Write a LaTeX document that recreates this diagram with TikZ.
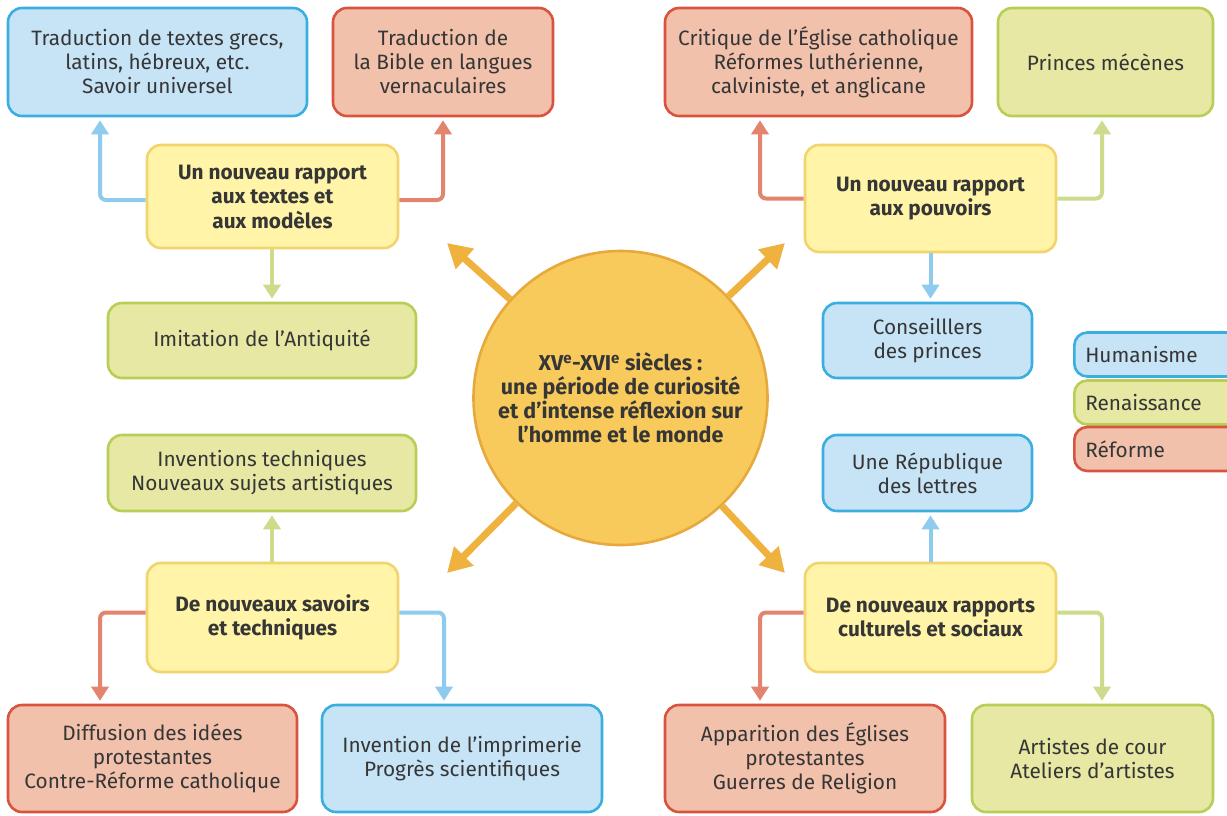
\documentclass[tikz,border=0pt]{standalone}
\usepackage{fontspec}
\setmainfont{Fira Sans}
\usetikzlibrary{arrows.meta}
\definecolor{txt}{HTML}{363636}
\definecolor{bluF}{HTML}{C7E4F7}
\definecolor{bluD}{HTML}{3BAEE0}
\definecolor{bluA}{HTML}{8FCBEF}
\definecolor{redF}{HTML}{F1C1AB}
\definecolor{redD}{HTML}{D9533F}
\definecolor{redA}{HTML}{E3846F}
\definecolor{grnF}{HTML}{E6E8A3}
\definecolor{grnD}{HTML}{B8CE57}
\definecolor{grnA}{HTML}{CCDB8C}
\definecolor{yelF}{HTML}{FFF4A8}
\definecolor{yelD}{HTML}{F2D46C}
\definecolor{cirF}{HTML}{F8CA5C}
\definecolor{cirD}{HTML}{E7A93C}
\definecolor{orA}{HTML}{EFB23F}
\begin{document}
\begin{tikzpicture}[x=1pt,y=-1pt,
  box/.style={rounded corners=14pt, line width=2.6pt, align=center, inner sep=0pt,
    font=\fontsize{20.8}{24}\selectfont, text=txt},
  bluebox/.style={box, draw=bluD, fill=bluF},
  redbox/.style={box, draw=redD, fill=redF},
  greenbox/.style={box, draw=grnD, fill=grnF},
  yelbox/.style={box, draw=yelD, fill=yelF, font=\fontsize{20.8}{24.5}\selectfont\bfseries},
  conn/.style={line width=4pt, rounded corners=6pt, -{Triangle[length=14pt,width=17pt]}, shorten >=3pt},
  bc/.style={conn, draw=bluA, bluA},
  rc/.style={conn, draw=redA, redA},
  gc/.style={conn, draw=grnA, grnA},
  orarr/.style={line width=7pt, draw=orA, -{Triangle[length=24pt,width=26pt]}, orA},
  leg/.style={rounded corners=13pt, line width=2.6pt, anchor=west, minimum height=44pt,
    text width=150pt, inner xsep=11pt, align=left, font=\fontsize{20.8}{24}\selectfont, text=txt}
]
\clip (0,0) rectangle (1227,815);
\fill[white] (0,0) rectangle (1227,815);

% top-left group
\node[bluebox, minimum width=299pt, minimum height=108pt] (b1) at (157.5,62)
  {Traduction de textes grecs,\\latins, hébreux, etc.\\Savoir universel};
\node[redbox, minimum width=220pt, minimum height=108pt] (r1) at (443,62)
  {Traduction de\\la Bible en langues\\vernaculaires};
\node[yelbox, minimum width=251pt, minimum height=103pt] (y1) at (272.5,196.5)
  {Un nouveau rapport\\aux textes et\\aux modèles};
\node[greenbox, minimum width=308pt, minimum height=75pt] (g1) at (262,340.5)
  {Imitation de l’Antiquité};

% top-right group
\node[redbox, minimum width=307pt, minimum height=108pt] (r2) at (818.5,62)
  {Critique de l’Église catholique\\Réformes luthérienne,\\calviniste, et anglicane};
\node[greenbox, minimum width=215pt, minimum height=108pt] (g2) at (1105.5,62)
  {Princes mécènes};
\node[yelbox, minimum width=251pt, minimum height=107pt] (y2) at (930.5,198.5)
  {Un nouveau rapport\\aux pouvoirs};
\node[bluebox, minimum width=209pt, minimum height=75pt] (b2) at (927.5,340.5)
  {Conseilllers\\des princes};

% bottom-left group
\node[greenbox, minimum width=308pt, minimum height=76pt] (g3) at (262,473)
  {Inventions techniques\\Nouveaux sujets artistiques};
\node[yelbox, minimum width=251pt, minimum height=109pt] (y3) at (272.5,617.5)
  {De nouveaux savoirs\\et techniques};
\node[redbox, minimum width=289pt, minimum height=107pt] (r3) at (152.5,758.5)
  {Diffusion des idées\\protestantes\\Contre-Réforme catholique};
\node[bluebox, minimum width=280pt, minimum height=107pt] (b3) at (462,758.5)
  {Invention de l’imprimerie\\Progrès scientifiques};

% bottom-right group
\node[bluebox, minimum width=209pt, minimum height=76pt] (b4) at (927.5,473)
  {Une République\\des lettres};
\node[yelbox, minimum width=251pt, minimum height=109pt] (y4) at (930.5,617.5)
  {De nouveaux rapports\\culturels et sociaux};
\node[redbox, minimum width=280pt, minimum height=107pt] (r4) at (805,758.5)
  {Apparition des Églises\\protestantes\\Guerres de Religion};
\node[greenbox, minimum width=241pt, minimum height=107pt] (g4) at (1092.5,758.5)
  {Artistes de cour\\Ateliers d’artistes};

% legend
\node[leg, draw=bluD, fill=bluF] (lh) at (1073,354.5) {Humanisme};
\node[leg, draw=grnD, fill=grnF] (lr) at (1073,402.5) {Renaissance};
\node[leg, draw=redD, fill=redF] (lf) at (1073,449) {Réforme};

% centre
\node[circle, minimum size=294pt, inner sep=0pt, fill=cirF, draw=cirD, line width=2.6pt,
  align=center, text=txt, font=\fontsize{21.5}{24}\selectfont\bfseries] (c) at (620.5,398)
  {XV\textsuperscript{e}-XVI\textsuperscript{e} siècles :\\une période de curiosité\\et d’intense réflexion sur\\l’homme et le monde};

\coordinate (tUL) at (447,243);
\coordinate (tUR) at (785,243);
\coordinate (tLL) at (447,573);
\coordinate (tLR) at (785,573);
\draw[orarr] (c) -- (tUL);
\draw[orarr] (c) -- (tUR);
\draw[orarr] (c) -- (tLL);
\draw[orarr] (c) -- (tLR);

% connectors
\draw[bc] ([yshift=-3.5pt]y1.west) -| ([xshift=-57.5pt]b1.south);
\draw[rc] ([yshift=-3.5pt]y1.east) -| (r1.south);
\draw[gc] ([xshift=-0.5pt]y1.south) -- ([xshift=-0.5pt]y1.south |- g1.north);

\draw[rc] (y2.west) -| ([xshift=-58.5pt]r2.south);
\draw[gc] (y2.east) -| ([xshift=-3.5pt]g2.south);
\draw[bc] (y2.south) -- (y2.south |- b2.north);

\draw[gc] ([xshift=-0.5pt]y3.north) -- ([xshift=-0.5pt]y3.north |- g3.south);
\draw[rc] ([yshift=5pt]y3.west) -| ([xshift=-52.5pt]r3.north);
\draw[bc] ([yshift=5pt]y3.east) -| ([xshift=-18pt]b3.north);

\draw[bc] (y4.north) -- (y4.north |- b4.south);
\draw[rc] ([yshift=5pt]y4.west) -| ([xshift=-45pt]r4.north);
\draw[gc] ([yshift=5pt]y4.east) -| ([xshift=9.5pt]g4.north);
\end{tikzpicture}
\end{document}
